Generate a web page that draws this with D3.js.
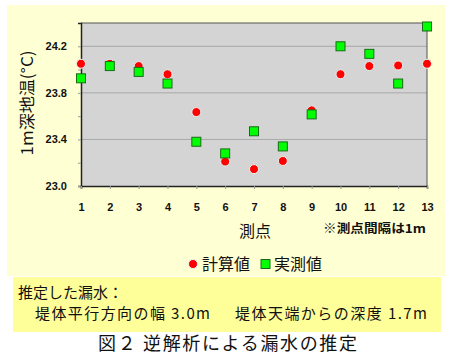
<!DOCTYPE html>
<html><head><meta charset="utf-8">
<script src="https://cdn.jsdelivr.net/npm/d3@7"></script>
<style>body{margin:0;background:#fff}</style>
</head><body>
<svg id="c" width="450" height="356"></svg>
<script>
const points = [1,2,3,4,5,6,7,8,9,10,11,12,13];
const calcValues = [24.05,24.05,24.03,23.96,23.635,23.21,23.145,23.215,23.65,23.96,24.03,24.035,24.05];
const measValues = [23.925,24.03,23.98,23.88,23.38,23.28,23.47,23.34,23.615,24.20,24.135,23.88,24.37];
const yTicks = [23.0,23.4,23.8,24.2];
const yMinor = [23.2,23.6,24.0];

const svg = d3.select("#c");
const jp = "'Noto Sans CJK JP', sans-serif";
const num = "'Liberation Sans', Arial, sans-serif";

svg.append("rect").attr("x",7).attr("y",5).attr("width",438).attr("height",271).attr("fill","#ffffd4");
svg.append("rect").attr("x",13).attr("y",277).attr("width",428).attr("height",55).attr("fill","#ffff99");

const L=81,R=427,T=23,B=186;
const x = d3.scaleLinear().domain([1,13]).range([L,R]);
const y = d3.scaleLinear().domain([23.0,24.4]).range([B,T]);

svg.append("rect").attr("x",L).attr("y",T).attr("width",R-L).attr("height",B-T).attr("fill","#d4d4d4");
svg.append("g").selectAll("line").data(yTicks.slice(1)).join("line")
  .attr("x1",L).attr("x2",R).attr("y1",d=>y(d)).attr("y2",d=>y(d))
  .attr("stroke","#a8a8a8").attr("stroke-width",1);
svg.append("path").attr("d",`M${L},${T}H${R}V${B}`).attr("fill","none").attr("stroke","#555").attr("stroke-width",1);

const yAxis = svg.append("g").attr("transform",`translate(${L},0)`)
  .call(d3.axisLeft(y).tickValues(yTicks.concat(yMinor)).tickSize(3).tickFormat(d=>yTicks.includes(d)?d3.format(".1f")(d):""));
yAxis.select(".domain").attr("stroke","#222").attr("stroke-width",1.5);
yAxis.selectAll(".tick line").attr("stroke","#999").attr("x2",-3);
yAxis.selectAll(".tick text").attr("x",-14).attr("font-family",num).attr("font-weight","bold").attr("font-size",11).attr("fill","#111");

const xAxis = svg.append("g").attr("transform",`translate(0,${B})`)
  .call(d3.axisBottom(x).tickValues(points).tickSize(3).tickFormat(d3.format("d")));
xAxis.select(".domain").attr("stroke","#222").attr("stroke-width",1.5);
xAxis.selectAll(".tick line").attr("stroke","#999");
xAxis.selectAll(".tick text").attr("y",17).attr("font-family",num).attr("font-weight","bold").attr("font-size",11).attr("fill","#111");

const gc = svg.append("g");
gc.selectAll("circle").data(points).join("circle")
  .attr("cx",d=>x(d)).attr("cy",(d,i)=>y(calcValues[i])).attr("r",4.5)
  .attr("fill","#ff0000").attr("stroke","#e8f4f4").attr("stroke-width",1);
const gm = svg.append("g");
gm.selectAll("rect").data(points).join("rect")
  .attr("x",d=>x(d)-4.5).attr("y",(d,i)=>y(measValues[i])-4.5).attr("width",9).attr("height",9)
  .attr("fill","#00ff00").attr("stroke","#1a6a1a").attr("stroke-width",1);

svg.append("text").attr("transform","translate(33,103) rotate(-90)").attr("text-anchor","middle")
  .attr("font-family",jp).attr("font-size",16).attr("fill","#111")
  .attr("textLength",105).attr("lengthAdjust","spacingAndGlyphs").text("1m深地温(°C)");
svg.append("text").attr("x",255).attr("y",237).attr("text-anchor","middle")
  .attr("font-family",jp).attr("font-size",16).attr("fill","#111").text("測点");
svg.append("text").attr("x",323).attr("y",233)
  .attr("font-family",jp).attr("font-weight","bold").attr("font-size",12).attr("fill","#111")
  .attr("textLength",103).attr("lengthAdjust","spacingAndGlyphs").text("※測点間隔は1m");

// legend
svg.append("circle").attr("cx",193).attr("cy",264).attr("r",4.5).attr("fill","#ff0000").attr("stroke","#e8f4f4");
svg.append("text").attr("x",202).attr("y",270).attr("font-family",jp).attr("font-size",16).attr("fill","#111").text("計算値");
svg.append("rect").attr("x",261).attr("y",259.5).attr("width",9).attr("height",9).attr("fill","#00ff00").attr("stroke","#1a6a1a");
svg.append("text").attr("x",274).attr("y",270).attr("font-family",jp).attr("font-size",16).attr("fill","#111").text("実測値");

svg.append("text").attr("x",18).attr("y",298).attr("font-family",jp).attr("font-size",15).attr("fill","#111").text("推定した漏水：");
svg.append("text").attr("x",35).attr("y",319).attr("font-family",jp).attr("font-size",15).attr("fill","#111")
  .attr("textLength",175).attr("lengthAdjust","spacing").text("堤体平行方向の幅 3.0m");
svg.append("text").attr("x",235).attr("y",319).attr("font-family",jp).attr("font-size",15).attr("fill","#111")
  .attr("textLength",192).attr("lengthAdjust","spacing").text("堤体天端からの深度 1.7m");
svg.append("text").attr("x",98).attr("y",350).attr("font-family",jp).attr("font-size",18)
  .attr("textLength",259).attr("lengthAdjust","spacing").attr("fill","#111").text("図２ 逆解析による漏水の推定");
</script>
</body></html>
